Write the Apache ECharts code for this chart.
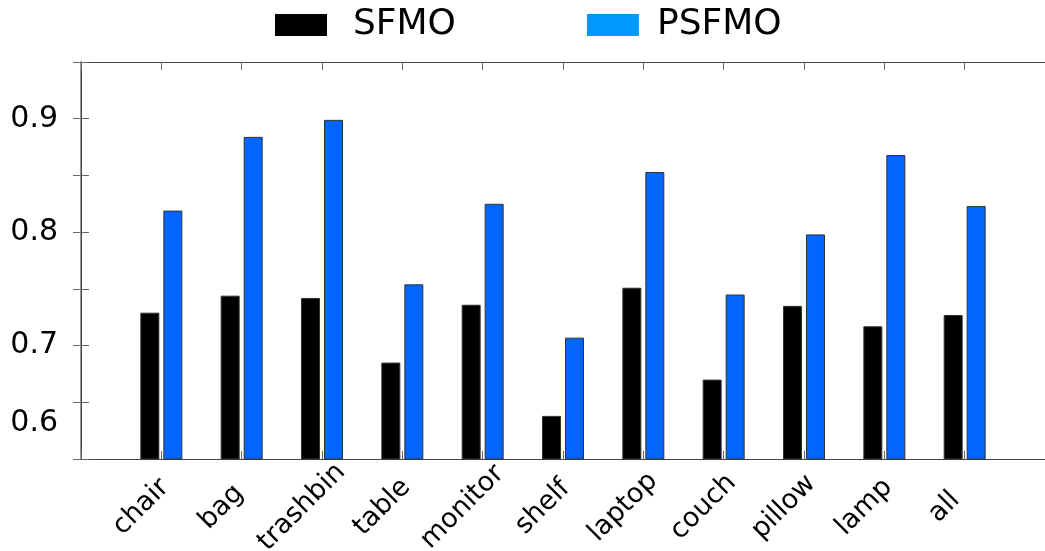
<!DOCTYPE html>
<html>
<head>
<meta charset="utf-8">
<script src="https://cdn.jsdelivr.net/npm/echarts@6/dist/echarts.min.js"></script>
<style>
html,body{margin:0;padding:0;background:#fff;}
#chart{width:1045px;height:551px;}
</style>
</head>
<body>
<div id="chart"></div>
<script>
var categories = ['chair','bag','trashbin','table','monitor','shelf','laptop','couch','pillow','lamp','all'];
var sfmo  = [0.729,0.744,0.742,0.685,0.736,0.638,0.751,0.670,0.735,0.717,0.727];
var psfmo = [0.819,0.884,0.899,0.754,0.825,0.707,0.853,0.745,0.798,0.868,0.823];
var yLabels = {'90':'0.9','80':'0.8','70':'0.7','60':'0.6'};

function toPoints(arr){ return arr.map(function(v,i){ return [i+1, v]; }); }

var chart = echarts.init(document.getElementById('chart'), null, {renderer:'canvas'});
var axisLineStyle = {color:'#444', width:1};
var option = {
  animation:false,
  textStyle:{fontFamily:'DejaVu Sans'},
  legend:{
    left:275, top:7, padding:0,
    itemWidth:52, itemHeight:22, itemGap:131,
    textStyle:{fontSize:36, color:'#000', fontFamily:'DejaVu Sans'},
    data:[
      {name:'SFMO', icon:'rect', itemStyle:{color:'#000', borderWidth:0},
       textStyle:{fontSize:36, color:'#000', fontFamily:'DejaVu Sans', padding:[0,0,0,21]}},
      {name:'PSFMO', icon:'rect', itemStyle:{color:'#0099ff', borderWidth:0},
       textStyle:{fontSize:36, color:'#000', fontFamily:'DejaVu Sans', padding:[0,0,0,13]}}
    ]
  },
  grid:{left:81, right:0, top:62, bottom:92, containLabel:false, outerBoundsMode:'none'},
  xAxis:[{
    type:'value', position:'bottom', min:0, max:12, interval:1,
    axisLine:{show:true, lineStyle:axisLineStyle},
    axisTick:{show:true, inside:true, length:8, lineStyle:{color:'#666'}},
    splitLine:{show:false},
    axisLabel:{
      rotate:45, margin:28, fontSize:27, color:'#000', fontFamily:'DejaVu Sans',
      align:'center', verticalAlign:'middle', padding:[28,57,0,0],
      formatter:function(v){ var i=Math.round(v); return (i>=1 && i<=categories.length) ? categories[i-1] : ''; }
    }
  },{
    type:'value', position:'top', min:0, max:12, interval:1,
    axisLine:{show:true, lineStyle:axisLineStyle},
    axisTick:{show:true, inside:true, length:8, lineStyle:{color:'#666'}},
    splitLine:{show:false},
    axisLabel:{show:false}
  }],
  yAxis:[{
    type:'value', position:'left', min:0.6, max:0.95, interval:0.05,
    axisLine:{show:true, lineStyle:{color:'#777', width:1.5}},
    axisTick:{show:true, inside:true, length:8, lineStyle:{color:'#666'}},
    splitLine:{show:false},
    axisLabel:{
      margin:23, fontSize:30, color:'#000', fontFamily:'DejaVu Sans',
      formatter:function(v){
        var k = String(Math.round(v*100));
        if(!yLabels[k]) return '';
        if(k==='60') return '{low|'+yLabels[k]+'}';
        return yLabels[k];
      },
      rich:{low:{fontSize:30, color:'#000', fontFamily:'DejaVu Sans', padding:[0,0,72,0]}}
    }
  },{
    type:'value', position:'right', min:0.6, max:0.95, interval:0.05,
    axisLine:{show:true, lineStyle:axisLineStyle},
    axisTick:{show:true, inside:true, length:8, lineStyle:{color:'#666'}},
    splitLine:{show:false},
    axisLabel:{show:false}
  }],
  series:[{
    name:'SFMO', type:'bar', xAxisIndex:0, yAxisIndex:0,
    barWidth:19, barGap:'21%',
    itemStyle:{color:'#000', borderColor:'#333', borderWidth:1},
    data:toPoints(sfmo)
  },{
    name:'PSFMO', type:'bar', xAxisIndex:0, yAxisIndex:0,
    barWidth:19, barGap:'21%',
    itemStyle:{color:'#0066ff', borderColor:'#333', borderWidth:1},
    data:toPoints(psfmo)
  }]
};
chart.setOption(option);
</script>
</body>
</html>
